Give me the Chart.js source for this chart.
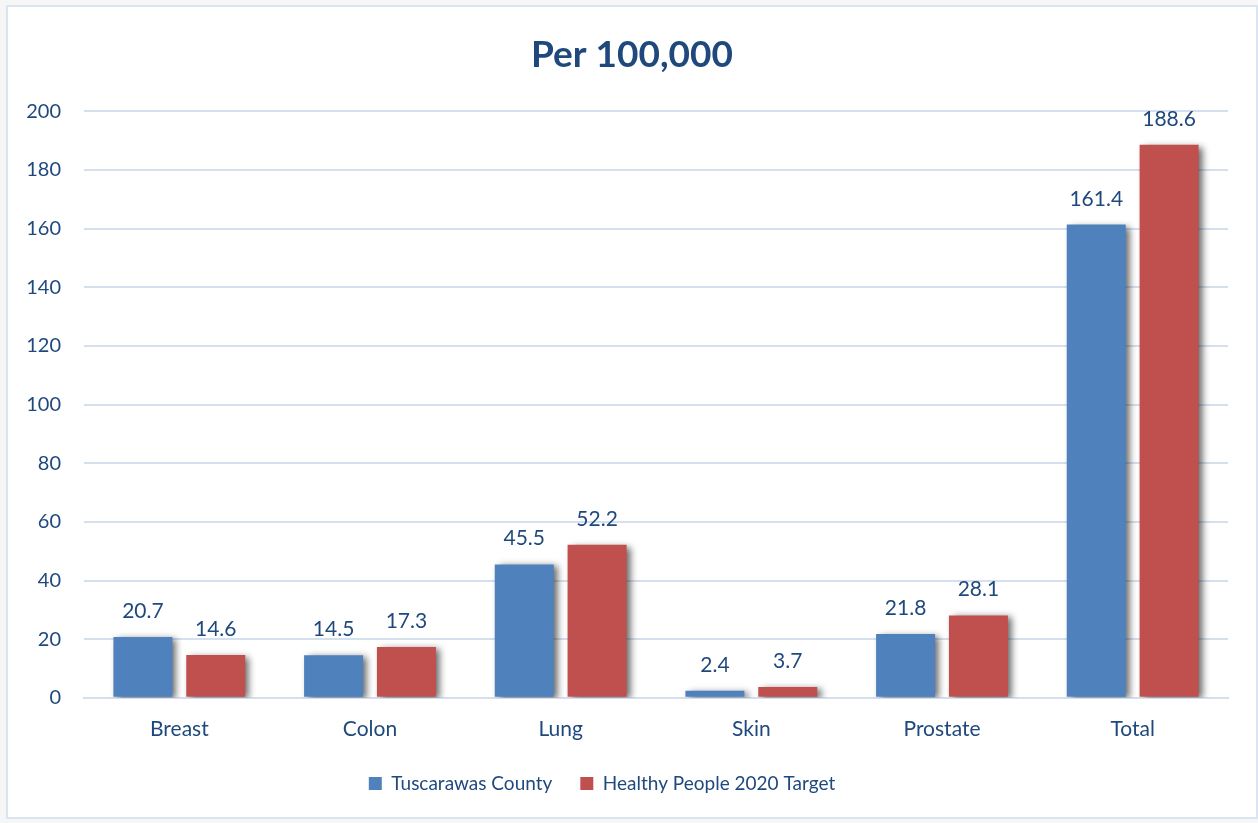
<!DOCTYPE html>
<html>
<head>
<meta charset="utf-8">
<script src="https://cdn.jsdelivr.net/npm/chart.js@4.4.1/dist/chart.umd.min.js"></script>
<style>
  html, body { margin: 0; padding: 0; background: #f6f6f6; }
  #box {
    position: absolute; left: 6px; top: 5px;
    width: 1252px; height: 814px;
    background: #fff;
    border: 2px solid #dbe5f1;
    box-sizing: border-box;
  }
</style>
</head>
<body>
<div id="box"><canvas id="cancerChart"></canvas></div>
<script>
// Chart values
const categories = ["Breast", "Colon", "Lung", "Skin", "Prostate", "Total"];
const countyRates = [20.7, 14.5, 45.5, 2.4, 21.8, 161.4];
const targetRates = [14.6, 17.3, 52.2, 3.7, 28.1, 188.6];
const seriesNames = ["Tuscarawas County", "Healthy People 2020 Target"];
const yTicks = [0, 20, 40, 60, 80, 100, 120, 140, 160, 180, 200];

const textBlue = '#1f497d';
const fontName = 'Lato, "Open Sans", sans-serif';

// bar shadows, like the office chart
const barShadow = {
    id: 'barShadow',
    beforeDatasetsDraw(chart) {
        const c = chart.ctx;
        c.save();
        c.shadowColor = 'rgba(0,0,0,0.6)';
        c.shadowBlur = 7;
        c.shadowOffsetX = 4;
        c.shadowOffsetY = 2;
    },
    afterDatasetsDraw(chart) {
        chart.ctx.restore();
    }
};

// value labels above each bar
const valueLabels = {
    id: 'valueLabels',
    afterDatasetsDraw(chart) {
        const c = chart.ctx;
        c.save();
        c.fillStyle = textBlue;
        c.font = '21px ' + fontName;
        c.textAlign = 'center';
        c.textBaseline = 'alphabetic';
        chart.data.datasets.forEach((ds, i) => {
            chart.getDatasetMeta(i).data.forEach((bar, j) => {
                c.fillText(ds.data[j].toFixed(1), bar.x, bar.y - 19);
            });
        });
        c.restore();
    }
};

// title and legend sit off the plot's centre in the original
const nudgeBoxes = {
    id: 'nudgeBoxes',
    afterLayout(chart) {
        const t = chart.titleBlock;
        if (t) { t.left += 14; t.right += 14; }
        const l = chart.legend;
        if (l) { l.left -= 16; l.right -= 16; }
    }
};

const ctx = document.getElementById('cancerChart').getContext('2d');
let cancerChart = new Chart(ctx, {
    type: 'bar',
    data: {
        labels: categories,
        datasets: [
            {
                label: seriesNames[0],
                data: countyRates,
                backgroundColor: '#4f81bd',
                categoryPercentage: 0.764,
                barPercentage: 0.81
            },
            {
                label: seriesNames[1],
                data: targetRates,
                backgroundColor: '#c0504d',
                categoryPercentage: 0.764,
                barPercentage: 0.81
            }
        ]
    },
    options: {
        responsive: true,
        maintainAspectRatio: false,
        animation: false,
        layout: { padding: { left: 0, right: 28, top: 0, bottom: 14 } },
        plugins: {
            title: {
                display: true,
                text: 'Per 100,000',
                color: textBlue,
                font: { family: fontName, size: 37, weight: 'bold' },
                padding: { top: 26, bottom: 34 }
            },
            legend: {
                position: 'bottom',
                labels: {
                    color: textBlue,
                    font: { family: fontName, size: 19 },
                    boxWidth: 13,
                    boxHeight: 13,
                    padding: 28
                }
            },
            tooltip: { enabled: false }
        },
        scales: {
            x: {
                grid: { display: false },
                border: { display: true, color: '#d5e0ef', width: 2 },
                afterFit(scale) {
                    scale.height -= 7;
                },
                ticks: {
                    color: textBlue,
                    font: { family: fontName, size: 21 },
                    padding: 11
                }
            },
            y: {
                min: 0,
                max: 200,
                afterBuildTicks(scale) {
                    scale.ticks = yTicks.map(v => ({ value: v }));
                },
                afterFit(scale) {
                    scale.width = 76;
                },
                grid: { color: '#d5e0ef', lineWidth: 2, drawTicks: false },
                border: { display: false },
                ticks: {
                    color: textBlue,
                    font: { family: fontName, size: 20 },
                    padding: 23
                }
            }
        }
    },
    plugins: [barShadow, valueLabels, nudgeBoxes]
});
</script>
</body>
</html>
